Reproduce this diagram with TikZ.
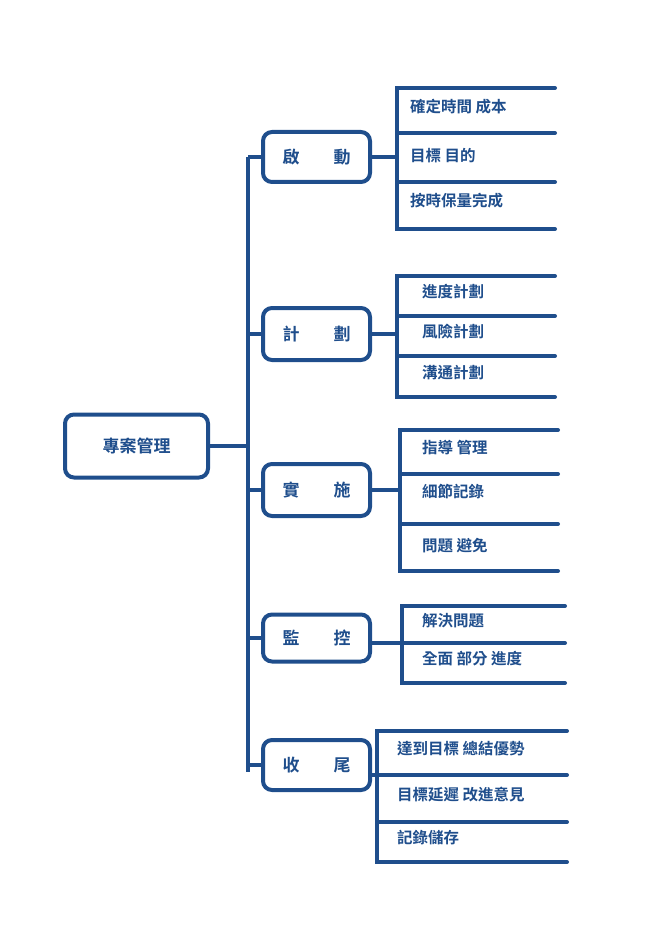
\documentclass[tikz,border=0pt]{standalone}
\usepackage{fontspec}
\setmainfont{Noto Sans CJK TC}[BoldFont={* Bold}]
\usetikzlibrary{positioning}
\definecolor{pmblue}{HTML}{1F4E8C}
\begin{document}
\begin{tikzpicture}
            [x=1pt, y=-1pt,
              box/.style={draw=pmblue, line width=4pt, rounded corners=9pt,
                inner sep=0pt, text=pmblue, font=\bfseries\fontsize{17}{17}\selectfont},
              item/.style={anchor=west, inner sep=0pt, text=pmblue,
                font=\bfseries\fontsize{15.5}{16}\selectfont},
              ln/.style={draw=pmblue, line width=4pt}]
            \useasboundingbox (0,0) rectangle (662,936);
            % root and trunk
            \node[box, minimum width=143pt, minimum height=63pt] (root) at (136.5, 446) {專案管理};
            \coordinate (tt) at (248, 157);
            \coordinate (tb) at (248, 772);
            \coordinate (tm) at (248, 446);
            \draw[ln] (root.east) -- (tm);
            \draw[ln] (tt) -- (tb);
            % stages
            \node[box, minimum width=107pt, minimum height=50pt] (qd) at (316.5, 157) {啟\hspace{2em}動};
            \node[box, minimum width=107pt, minimum height=52pt] (jh) at (316.5, 334) {計\hspace{2em}劃};
            \node[box, minimum width=107pt, minimum height=52pt] (ss) at (316.5, 490) {實\hspace{2em}施};
            \node[box, minimum width=107pt, minimum height=47pt] (jk) at (316.5, 638) {監\hspace{2em}控};
            \node[box, minimum width=107pt, minimum height=50pt] (sw) at (316.5, 765) {收\hspace{2em}尾};
            \foreach \s in {qd, jh, ss, jk, sw}
              \draw[ln] (\s.west -| tt) -- (\s.west);
            % brackets
            \coordinate (b1) at (397, 157);
            \draw[ln] (qd.east) -- (b1);
            \draw[ln, line cap=round] (555, 88) -- (397, 88) -- (397, 229) -- (555, 229);
            \draw[ln, line cap=round] (397, 133) -- (555, 133);
            \draw[ln, line cap=round] (397, 182) -- (555, 182);
            \node[item] (q1) at (410, 107) {確定時間\ 成本};
            \node[item] (q2) at (410, 156) {目標\ 目的};
            \node[item] (q3) at (410, 201) {按時保量完成};
            \coordinate (b2) at (397, 334);
            \draw[ln] (jh.east) -- (b2);
            \draw[ln, line cap=round] (555, 276) -- (397, 276) -- (397, 397) -- (555, 397);
            \draw[ln, line cap=round] (397, 316) -- (555, 316);
            \draw[ln, line cap=round] (397, 356) -- (555, 356);
            \node[item] (j1) at (422, 292) {進度計劃};
            \node[item] (j2) at (422, 332) {風險計劃};
            \node[item] (j3) at (422, 373) {溝通計劃};
            \coordinate (b3) at (400, 490);
            \draw[ln] (ss.east) -- (b3);
            \draw[ln, line cap=round] (558, 430) -- (400, 430) -- (400, 571) -- (558, 571);
            \draw[ln, line cap=round] (400, 474) -- (558, 474);
            \draw[ln, line cap=round] (400, 524) -- (558, 524);
            \node[item] (s1) at (422, 448) {指導\ 管理};
            \node[item] (s2) at (422, 492) {細節記錄};
            \node[item] (s3) at (422, 546) {問題\ 避免};
            \coordinate (b4) at (402, 643);
            \draw[ln] (jk.east |- b4) -- (b4);
            \draw[ln, line cap=round] (565, 606) -- (402, 606) -- (402, 683) -- (565, 683);
            \draw[ln, line cap=round] (402, 643) -- (565, 643);
            \node[item] (k1) at (422, 621) {解決問題};
            \node[item] (k2) at (422, 659) {全面\ 部分\ 進度};
            \coordinate (b5) at (377, 775);
            \draw[ln] (sw.east |- b5) -- (b5);
            \draw[ln, line cap=round] (567, 731) -- (377, 731) -- (377, 862) -- (567, 862);
            \draw[ln, line cap=round] (377, 775) -- (567, 775);
            \draw[ln, line cap=round] (377, 822) -- (567, 822);
            \node[item] (w1) at (397, 749) {達到目標\ 總結優勢};
            \node[item] (w2) at (397, 795) {目標延遲\ 改進意見};
            \node[item] (w3) at (397, 838) {記錄儲存};
        \end{tikzpicture}
\end{document}
